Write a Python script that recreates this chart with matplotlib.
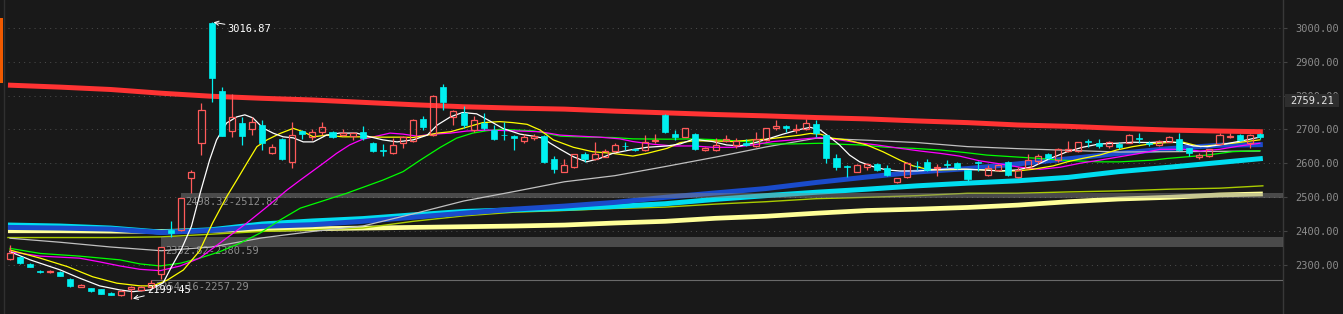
import matplotlib.pyplot as plt
from matplotlib.patches import Rectangle
from matplotlib.lines import Line2D

BG = '#191919'
RED = '#FF5A5A'
CYAN = '#00F0F0'
MONO = 'DejaVu Sans Mono'

# daily candles (index 0..124)
opens = [2317, 2323, 2302, 2280, 2277, 2279, 2257, 2235, 2231, 2227,
         2217, 2210, 2227, 2225, 2233, 2272, 2402, 2402, 2556, 2659,
         3014, 2814, 2696, 2718, 2700, 2713, 2629, 2671, 2604, 2695,
         2676, 2691, 2693, 2684, 2681, 2691, 2659, 2638, 2629, 2660,
         2666, 2730, 2683, 2826, 2736, 2748, 2698, 2720, 2698, 2684,
         2680, 2666, 2674, 2680, 2612, 2575, 2590, 2627, 2612, 2619,
         2637, 2652, 2642, 2639, 2666, 2743, 2686, 2678, 2686, 2639,
         2639, 2666, 2653, 2659, 2651, 2669, 2705, 2710, 2699, 2701,
         2716, 2683, 2615, 2592, 2575, 2588, 2598, 2585, 2545, 2559,
         2593, 2604, 2585, 2598, 2602, 2580, 2603, 2565, 2580, 2604,
         2559, 2585, 2607, 2627, 2609, 2636, 2636, 2665, 2661, 2651,
         2657, 2661, 2674, 2660, 2654, 2664, 2671, 2644, 2619, 2621,
         2657, 2676, 2683, 2661, 2686]
closes = [2334, 2304, 2294, 2278, 2282, 2267, 2237, 2240, 2222, 2213,
          2211, 2222, 2235, 2235, 2245, 2352.82, 2394, 2498.32, 2574, 2757,
          2853, 2681, 2738, 2681, 2723, 2659, 2649, 2612, 2683, 2686,
          2691, 2708, 2678, 2688, 2689, 2674, 2637, 2636, 2654, 2678,
          2728, 2708, 2799, 2780, 2754, 2713, 2727, 2703, 2672, 2682,
          2674, 2678, 2680, 2604, 2583, 2595, 2627, 2612, 2627, 2637,
          2653, 2650, 2640, 2664, 2669, 2691, 2678, 2703, 2641, 2644,
          2653, 2671, 2666, 2653, 2671, 2703, 2710, 2705, 2701, 2718,
          2688, 2615, 2590, 2588, 2595, 2598, 2580, 2565, 2555, 2602,
          2591, 2580, 2590, 2594, 2585, 2552, 2601, 2585, 2595, 2565,
          2580, 2609, 2621, 2615, 2642, 2641, 2662, 2663, 2651, 2664,
          2649, 2683, 2672, 2657, 2667, 2678, 2639, 2629, 2624, 2641,
          2683, 2681, 2669, 2683, 2676]
highs = [2358, 2326, 2304, 2284, 2284, 2281, 2261, 2242, 2232, 2228,
         2219, 2224, 2237, 2237, 2254.16, 2352.82, 2430, 2498.32, 2580, 2777,
         3016.87, 2825, 2804, 2738, 2738, 2728, 2656, 2674, 2723, 2697,
         2700, 2723, 2695, 2700, 2691, 2710, 2664, 2658, 2674, 2681,
         2730, 2740, 2802, 2834, 2757, 2768, 2740, 2748, 2712, 2723,
         2682, 2686, 2686, 2682, 2621, 2612, 2628, 2633, 2662, 2643,
         2659, 2664, 2646, 2683, 2685, 2745, 2697, 2705, 2688, 2648,
         2674, 2684, 2674, 2671, 2691, 2705, 2728, 2712, 2715, 2730,
         2728, 2684, 2627, 2595, 2597, 2602, 2600, 2595, 2557, 2603,
         2607, 2612, 2598, 2609, 2604, 2581, 2607, 2595, 2597, 2607,
         2588, 2627, 2627, 2629, 2644, 2667, 2664, 2671, 2671, 2667,
         2664, 2687, 2690, 2666, 2669, 2681, 2690, 2646, 2630, 2643,
         2688, 2690, 2685, 2686, 2688]
lows = [2315, 2302, 2292, 2274, 2276, 2265, 2233, 2234, 2220, 2212,
        2209, 2208, 2199.45, 2222, 2231, 2257.29, 2380.59, 2398, 2512.82, 2624,
        2782, 2679, 2678, 2654, 2682, 2639, 2627, 2610, 2585, 2672,
        2670, 2683, 2674, 2680, 2670, 2670, 2632, 2620, 2627, 2646,
        2664, 2698, 2681, 2757, 2713, 2705, 2693, 2698, 2670, 2669,
        2639, 2661, 2669, 2602, 2572, 2573, 2587, 2604, 2610, 2617,
        2634, 2639, 2636, 2636, 2661, 2689, 2669, 2676, 2639, 2636,
        2637, 2664, 2646, 2651, 2649, 2667, 2697, 2691, 2688, 2697,
        2678, 2600, 2580, 2559, 2573, 2580, 2578, 2563, 2540, 2555,
        2580, 2578, 2562, 2587, 2583, 2548, 2578, 2563, 2578, 2563,
        2557, 2583, 2598, 2613, 2604, 2634, 2634, 2649, 2644, 2644,
        2643, 2660, 2660, 2651, 2652, 2662, 2637, 2622, 2612, 2619,
        2655, 2674, 2667, 2645, 2672]

# thin moving averages (candle index, price)
ma5_x = [0, 2, 5, 6.9, 8.9, 10.9, 12.2, 13.9, 15.2, 16, 17, 18, 18.9, 19.8, 20.5,
         21.5, 22.5, 23.3, 24.1, 25.1, 26.1, 27.1, 28.1, 29.1, 30.1, 31.4, 32.7,
         34.4, 35.7, 37, 38.4, 40, 41.4, 42.4, 43.7, 44.9, 46.3, 47.6, 48.9, 50.6,
         51.9, 52.9, 53.6, 54.6, 55.9, 57.2, 58.5, 59.8, 61.5, 63.2, 65.2, 66.5,
         67.8, 69.7, 71.1, 72.4, 73.7, 75.1, 76.7, 78.4, 79.4, 80.4, 81.3, 82.3,
         83.3, 84.3, 85.6, 87, 88.3, 90, 91.6, 93.3, 94.9, 96.5, 98.2, 99.9, 101.5,
         103.2, 104.9, 106.4, 108.1, 109.8, 111.4, 113.1, 114.8, 116.4, 117.4,
         118.8, 120, 121.3, 122.7, 124]
ma5_y = [2338, 2314, 2284, 2260, 2237, 2225, 2220, 2225, 2246, 2292, 2345, 2413, 2515,
         2609, 2669, 2719, 2737, 2743, 2734, 2704, 2689, 2678, 2675, 2663, 2663, 2683,
         2689, 2689, 2678, 2669, 2663, 2669, 2683, 2713, 2737, 2750, 2746, 2725, 2703,
         2686, 2680, 2674, 2659, 2641, 2619, 2604, 2614, 2629, 2639, 2647, 2651, 2657,
         2671, 2664, 2654, 2651, 2659, 2671, 2686, 2700, 2706, 2698, 2678, 2654, 2624,
         2604, 2590, 2580, 2577, 2577, 2580, 2583, 2582, 2580, 2577, 2580, 2590, 2614,
         2634, 2647, 2657, 2659, 2662, 2661, 2664, 2659, 2651, 2649, 2654, 2661, 2669,
         2677]

ma10_x = [0, 3, 5.7, 8.2, 10.6, 12.9, 14.2, 15.6, 17.2, 18.8, 20.1, 21.5, 22.5, 23.5,
          24.5, 25.5, 26.8, 28.1, 29.1, 30.1, 31.4, 33, 35, 37, 38.7, 40, 41.4, 42.4,
          43.7, 44.9, 46.9, 48.6, 49.9, 51.3, 52.6, 53.9, 55.9, 57.8, 59.8, 61.8, 63.2,
          65.2, 66.5, 67.8, 69.7, 71.7, 73.7, 75.1, 76.7, 78.4, 79.4, 80.4, 81.6, 83,
          85, 86.6, 88.3, 89.6, 91, 92.3, 94.9, 96.9, 98.2, 99.9, 101.5, 103.5, 104.9,
          106.4, 108.1, 109.8, 111.4, 113.1, 114.8, 116.4, 118.1, 119.7, 121.3, 124]
ma10_y = [2343, 2319, 2294, 2264, 2245, 2237, 2237, 2254, 2284, 2340, 2423, 2501, 2550,
          2600, 2649, 2669, 2688, 2703, 2693, 2678, 2683, 2678, 2678, 2677, 2677, 2676,
          2683, 2689, 2693, 2703, 2720, 2723, 2720, 2715, 2698, 2669, 2647, 2634, 2629,
          2621, 2629, 2644, 2661, 2666, 2666, 2664, 2669, 2671, 2677, 2683, 2688, 2686,
          2674, 2669, 2654, 2634, 2609, 2592, 2582, 2580, 2582, 2580, 2577, 2577, 2582,
          2592, 2604, 2614, 2624, 2639, 2649, 2657, 2661, 2662, 2649, 2654, 2659, 2669]

ma20_x = [0, 3, 6.9, 8.9, 10.9, 12.9, 14.9, 16.9, 18.8, 20.8, 23.5, 25.5, 27.5, 28.8,
          31.1, 32.4, 33.7, 35, 36.4, 37.7, 39, 40.4, 42, 43.7, 45.3, 47.3, 49.6, 52.6,
          54.6, 56.5, 58.5, 60.5, 61.8, 63.8, 65.8, 67.8, 69.7, 71.7, 73.7, 75.7, 77.7,
          80.4, 82.3, 84, 86, 88.3, 90.3, 92.3, 94.2, 96.2, 98.2, 100.2, 102.2, 104.2,
          106.2, 108.1, 110.1, 112.1, 114.1, 116.4, 118.1, 120, 122, 124]
ma20_y = [2338, 2325, 2319, 2308, 2296, 2286, 2282, 2296, 2319, 2363, 2423, 2471, 2521,
          2550, 2600, 2629, 2654, 2671, 2680, 2689, 2686, 2680, 2686, 2689, 2695, 2698,
          2696, 2693, 2683, 2680, 2677, 2672, 2664, 2656, 2651, 2651, 2647, 2647, 2654,
          2664, 2669, 2676, 2669, 2661, 2654, 2644, 2636, 2629, 2621, 2607, 2598, 2588,
          2582, 2588, 2600, 2609, 2619, 2629, 2641, 2641, 2636, 2641, 2651, 2659]

ma30_x = [0, 3, 6.9, 10.9, 12.9, 14.9, 16.9, 18.8, 20.8, 22.8, 24.8, 26.8, 28.8, 30.8,
          33.4, 37, 39, 40.7, 42.7, 44.3, 45.9, 47.3, 48.6, 51.9, 54.6, 57.2, 59.8,
          61.8, 65.2, 67.8, 70.4, 73.1, 75.1, 77.7, 80.4, 81.6, 84.3, 87, 89.6, 92.3,
          94.9, 96.9, 99.5, 102.2, 104.2, 106.4, 108.1, 110.1, 111.4, 113.4, 114.8,
          116.8, 118.8, 121.3, 124]
ma30_y = [2348, 2333, 2325, 2314, 2302, 2296, 2304, 2319, 2338, 2363, 2393, 2432, 2467,
          2486, 2511, 2550, 2575, 2609, 2647, 2674, 2689, 2696, 2700, 2696, 2680, 2677,
          2676, 2672, 2671, 2672, 2669, 2664, 2657, 2657, 2659, 2657, 2654, 2647, 2644,
          2639, 2631, 2624, 2619, 2614, 2609, 2606, 2604, 2604, 2606, 2609, 2614, 2619,
          2624, 2634, 2637]

ma60_x = [0, 5, 10, 15, 20, 25, 30, 35, 40, 45, 50, 55, 60, 65, 70, 75, 80, 85, 90,
          95, 100, 105, 110, 115, 120, 124]
ma60_y = [2378, 2366, 2352, 2341, 2352, 2379, 2398, 2414, 2450, 2488, 2516, 2545, 2563,
          2590, 2618, 2648, 2674, 2668, 2661, 2649, 2643, 2638, 2633, 2634, 2635, 2636]

# long-period lines, one value per 5 candles
band_x = [-0.2, 5, 10, 15, 20, 25, 30, 35, 40, 45, 50, 55, 60, 65, 70, 75, 80, 85,
          90, 95, 100, 105, 110, 115, 120, 124.3]
red_band = [2831, 2825, 2818, 2807, 2798, 2792, 2787, 2780, 2773, 2767, 2763, 2760,
            2754, 2749, 2744, 2740, 2735, 2731, 2725, 2720, 2713, 2709, 2703, 2698,
            2695, 2693]
blue_band = [2410, 2408, 2405, 2395, 2401, 2413, 2418, 2428, 2440, 2452, 2464, 2473,
             2484, 2499, 2512, 2525, 2543, 2559, 2574, 2584, 2598, 2613, 2629, 2643,
             2653, 2655]
cyan_band = [2417, 2414, 2408, 2396, 2403, 2420, 2429, 2436, 2447, 2457, 2462, 2466,
             2472, 2480, 2493, 2504, 2514, 2523, 2533, 2541, 2548, 2558, 2575, 2588,
             2602, 2614]
pale_band = [2400, 2400, 2399, 2398, 2401, 2404, 2406, 2408, 2410, 2412, 2414, 2417,
             2423, 2428, 2437, 2443, 2452, 2460, 2464, 2469, 2476, 2486, 2494, 2499,
             2506, 2509]
olive_line = [2380, 2380, 2380, 2382, 2390, 2398, 2403, 2408, 2428, 2444, 2455, 2460,
              2466, 2470, 2479, 2486, 2495, 2499, 2504, 2511, 2511, 2515, 2518, 2523,
              2526, 2533]

# price gaps: (start candle, low, high, label)
gaps = [(17, 2498.32, 2512.82, '2498.32-2512.82'),
        (15, 2352.82, 2380.59, '2352.82-2380.59'),
        (14, 2254.16, 2257.29, '2254.16-2257.29')]
gap_label_pos = [(17.4, 2484), (15.4, 2339), (14.4, 2235)]

yticks = [2300, 2400, 2500, 2600, 2700, 2800, 2900, 3000]
last_price = '2759.21'

W, H = 1343, 314
fig = plt.figure(figsize=(W / 100, H / 100), dpi=100, facecolor=BG)
ax = fig.add_axes([0, 0, 1283 / W, 1])
ax.set_facecolor(BG)
ax.set_xlim(-0.99, 126.3)
ax.set_ylim(2153.8, 3082.8)

for v in yticks:
    ax.hlines(v, -0.2, 126.3, color='#4a4a4a', lw=0.75, linestyle=(0, (1, 4)), zorder=1)

# thick long-period bands
ax.plot(band_x, pale_band, color='#FFFF99', lw=3.4, zorder=2, solid_capstyle='butt')
ax.plot(band_x, olive_line, color='#AACC00', lw=1.0, zorder=2.2)
ax.plot(band_x, cyan_band, color='#00DDF0', lw=3.6, zorder=2.4, solid_capstyle='butt')
ax.plot(band_x, blue_band, color='#1A4BCB', lw=3.6, zorder=2.5, solid_capstyle='butt')
ax.plot(band_x, red_band, color='#FF3333', lw=3.6, zorder=2.6, solid_capstyle='butt')

# gap zones
for start, lo, hi, txt in gaps:
    if hi - lo > 5:
        ax.fill_between([start, 126.3], lo, hi, color='#868686', alpha=0.46, lw=0, zorder=3)
    else:
        ax.hlines((lo + hi) / 2, start, 126.3, color='#6a6a6a', lw=0.8, zorder=3)
for (start, lo, hi, txt), (tx, ty) in zip(gaps, gap_label_pos):
    ax.text(tx, ty, txt, color='#8c8c8c', fontsize=7.5, family=MONO, va='center', ha='left', zorder=3.5)

# thin averages
ax.plot(ma60_x, ma60_y, color='#C0C0C0', lw=0.9, zorder=4)
ax.plot(ma30_x, ma30_y, color='#00FF00', lw=0.9, zorder=4.1)
ax.plot(ma20_x, ma20_y, color='#FF00FF', lw=0.9, zorder=4.2)
ax.plot(ma10_x, ma10_y, color='#FFFF00', lw=0.9, zorder=4.3)
ax.plot(ma5_x, ma5_y, color='#FFFFFF', lw=0.9, zorder=4.4)

# candles
for i in range(len(opens)):
    o, c, h, l = opens[i], closes[i], highs[i], lows[i]
    lo_b, hi_b = min(o, c), max(o, c)
    if hi_b - lo_b < 2:
        hi_b = lo_b + 2
    if c >= o:
        ax.vlines(i, hi_b, h, color=RED, lw=0.9, zorder=6)
        ax.vlines(i, l, lo_b, color=RED, lw=0.9, zorder=6)
        ax.add_patch(Rectangle((i - 0.3, lo_b), 0.6, hi_b - lo_b, facecolor='none',
                               edgecolor=RED, lw=0.9, zorder=7))
    else:
        ax.vlines(i, l, h, color=CYAN, lw=0.9, zorder=6)
        ax.add_patch(Rectangle((i - 0.3, lo_b), 0.6, hi_b - lo_b, facecolor=CYAN,
                               edgecolor=CYAN, lw=0.5, zorder=7))

# high / low markers
ax.annotate('3016.87', xy=(20.2, 3016.87), xytext=(21.6, 2998), color='white',
            fontsize=7.5, family=MONO, va='center', ha='left', zorder=8,
            arrowprops=dict(arrowstyle='->', color='white', lw=0.7, shrinkA=0, shrinkB=0))
ax.annotate('2199.45', xy=(12.2, 2199.45), xytext=(13.6, 2225), color='white',
            fontsize=7.5, family=MONO, va='center', ha='left', zorder=8,
            arrowprops=dict(arrowstyle='->', color='white', lw=0.7, shrinkA=0, shrinkB=0))

# right price axis
ax.yaxis.tick_right()
ax.set_yticks(yticks)
ax.set_yticklabels([f'{v:.2f}' for v in yticks], family=MONO)
ax.tick_params(axis='y', colors='#444444', labelcolor='#8c8c8c', length=3, width=0.8,
               pad=6, labelsize=7.5)
ax.set_xticks([])
for side in ['left', 'top', 'bottom']:
    ax.spines[side].set_visible(False)
ax.spines['right'].set_color('#383838')
ax.spines['right'].set_linewidth(1.0)

# left edge strip and marker
fig.add_artist(Line2D([3.5 / W, 3.5 / W], [0, 1], color='#303030', lw=1.0))
fig.add_artist(Rectangle((0, 1 - 83 / H), 3 / W, 65 / H, facecolor='#F05A00',
                         edgecolor='none', transform=fig.transFigure))

# last price tag
fig.add_artist(Rectangle((1285 / W, 1 - 107 / H), 54 / W, 13 / H, facecolor='#2e2e2e',
                         edgecolor='none', transform=fig.transFigure, zorder=5))
fig.text(1312 / W, 1 - 100.5 / H, last_price, color='#e6e6e6', fontsize=7.5, family=MONO,
         ha='center', va='center', zorder=6)

fig.savefig('out.png', dpi=100, facecolor=BG)
